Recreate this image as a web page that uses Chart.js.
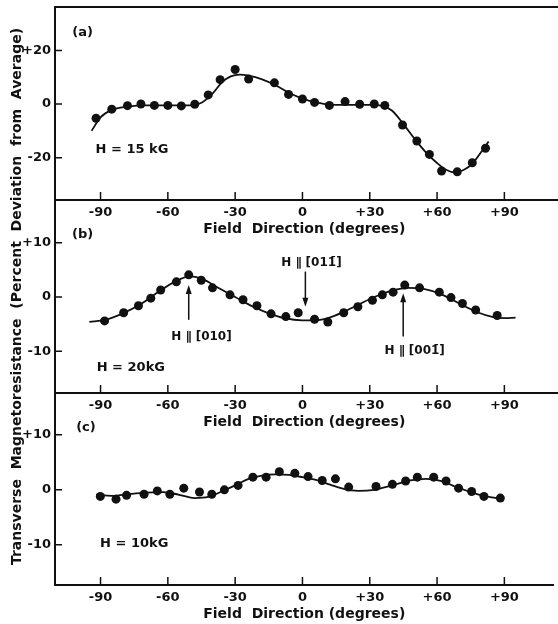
<!DOCTYPE html>
<html>
<head>
<meta charset="utf-8">
<script src="https://cdn.jsdelivr.net/npm/chart.js@4.4.1/dist/chart.umd.min.js"></script>
<style>
  html, body { margin: 0; padding: 0; background: #fff; overflow: hidden; }
  .wrap { position: absolute; left: 0; top: 0; width: 558px; height: 624px; }
  canvas { position: absolute; left: 0; top: 0; }
</style>
</head>
<body>
<div class="wrap">
  <canvas id="panelA" width="558" height="624"></canvas>
  <canvas id="panelB" width="558" height="624"></canvas>
  <canvas id="panelC" width="558" height="624"></canvas>
</div>
<script>
// field direction axis (degrees)
const xTicks = [-90, -60, -30, 0, 30, 60, 90];
const xTickLabels = ['-90', '-60', '-30', '0', '+30', '+60', '+90'];

// (a) H = 15 kG : measured points
const angleA = [-92, -85, -78, -72, -66, -60, -54, -48, -42, -36.7, -30, -24, -12.5, -6.2, 0, 5.4, 12, 19, 25.5, 32, 36.7, 44.6, 51, 56.6, 62, 69, 75.7, 81.6];
const devA = [-5.3, -1.9, -0.6, 0, -0.5, -0.5, -0.7, -0.1, 3.4, 9.1, 12.9, 9.3, 7.9, 3.6, 1.9, 0.6, -0.5, 0.9, -0.1, 0, -0.5, -7.8, -13.8, -18.8, -25, -25.3, -21.9, -16.5];
// (a) drawn curve
const fitAngleA = [-94, -90, -85, -78, -70, -60, -50, -45, -40, -36, -32, -28, -24, -18, -12, -6, 0, 6, 12, 20, 30, 36, 40, 45, 50, 55, 60, 64, 68, 72, 76, 80, 83];
const fitA = [-10, -5, -2.2, -1, -0.5, -0.5, -0.5, 0.5, 4, 8, 10.3, 11, 10.6, 9.2, 7, 4.2, 2, 0.6, -0.2, -0.3, -0.3, -0.8, -2.5, -7.5, -13, -18, -22, -24.5, -25.5, -24.5, -22, -17.5, -14];
const yTicksA = [-20, 0, 20];
const yTickLabelsA = ['-20', '0', '+20'];

// (b) H = 20 kG
const angleB = [-88.2, -79.7, -73.1, -67.6, -63.2, -56.2, -50.7, -45.1, -40.1, -32.3, -26.5, -20.3, -14, -7.4, -1.9, 5.4, 11.3, 18.4, 24.7, 31.2, 35.6, 40.4, 45.6, 52.2, 61, 66.2, 71.3, 77.2, 86.8];
const devB = [-4.4, -2.9, -1.6, -0.2, 1.3, 2.8, 4.1, 3.1, 1.7, 0.4, -0.5, -1.6, -3.1, -3.6, -2.9, -4.1, -4.6, -2.9, -1.8, -0.6, 0.4, 0.9, 2.2, 1.7, 0.9, -0.1, -1.2, -2.4, -3.4];
const fitAngleB = [-95, -88, -80, -72, -64, -57, -50, -44, -38, -30, -22, -15, -8, 0, 6, 12, 18, 25, 32, 40, 47, 54, 62, 70, 78, 85, 90, 95];
const fitB = [-4.6, -4.2, -3, -1.3, 1, 2.8, 3.8, 3.2, 1.8, 0, -1.8, -3, -3.9, -4.3, -4.3, -3.8, -2.8, -1.4, 0, 1.2, 1.7, 1.5, 0.5, -1.2, -2.8, -3.7, -3.9, -3.8];
const yTicksB = [-10, 0, 10];
const yTickLabelsB = ['-10', '0', '+10'];

// (c) H = 10 kG
const angleC = [-90.1, -83.1, -78.4, -70.6, -64.7, -59.1, -52.9, -45.9, -40.4, -34.8, -28.7, -22.1, -16.2, -10.3, -3.4, 2.5, 8.8, 14.7, 20.6, 32.8, 40.1, 46, 51.2, 58.5, 64, 69.6, 75.4, 80.9, 88.2];
const devC = [-1.2, -1.7, -1, -0.8, -0.2, -0.8, 0.3, -0.4, -0.8, 0, 0.8, 2.3, 2.3, 3.3, 3, 2.4, 1.7, 2, 0.5, 0.6, 1, 1.6, 2.3, 2.3, 1.6, 0.3, -0.3, -1.2, -1.5];
const fitAngleC = [-92, -85, -78, -70, -62, -55, -48, -42, -36, -30, -24, -18, -12, -6, 0, 6, 12, 18, 25, 32, 40, 48, 55, 62, 68, 75, 82, 88];
const fitC = [-0.9, -1.1, -0.8, -0.5, -0.4, -0.9, -1.5, -1.3, -0.3, 0.8, 2, 2.6, 2.8, 2.7, 2.3, 1.8, 1, 0.2, -0.2, 0, 0.8, 1.7, 2, 1.6, 0.6, -0.4, -1.2, -1.6];
const yTicksC = [-10, 0, 10];
const yTickLabelsC = ['-10', '0', '+10'];

// panel tags and field strengths (data units)
const panelTags = ['(a)', '(b)', '(c)'];
const tagX = [-98, -98, -96.5];
const tagY = [26.5, 11.6, 11.3];
const fieldText = ['H = 15 kG', 'H = 20kG', 'H = 10kG'];
const fieldX = [-76, -76.5, -75];
const fieldY = [-17, -13, -9.8];

// crystal direction markers in (b)
const dirText = ['H \u2225 [010]', 'H \u2225 [01\u0031\u0304]', 'H \u2225 [00\u0031\u0304]'];
const dirTextX = [-45, 4, 50];
const dirTextY = [-7.4, 6.3, -10];
const arrowX = [-50.7, 1.3, 44.9];
const arrowFrom = [-4.2, 4.7, -7.3];
const arrowTo = [2.2, -1.8, 0.7];

const ink = '#111';
const fontFam = '"DejaVu Sans", sans-serif';
const W = 558, H = 624;

const framePlugin = {
  id: 'frame',
  afterDraw(chart, args, opts) {
    const {ctx, chartArea: a, scales: {x, y}} = chart;
    ctx.save();
    ctx.strokeStyle = ink;
    ctx.fillStyle = ink;
    // top line of the box
    ctx.fillRect(a.left - 1, Math.round(a.top) - 1, W - a.left + 1, 2);
    // inward tick marks
    ctx.lineWidth = 1.5;
    ctx.beginPath();
    xTicks.forEach(v => {
      const px = x.getPixelForValue(v);
      ctx.moveTo(px, a.bottom);
      ctx.lineTo(px, a.bottom - 8);
    });
    opts.yTicks.forEach(v => {
      const py = y.getPixelForValue(v);
      ctx.moveTo(a.left, py);
      ctx.lineTo(a.left + 7, py);
    });
    ctx.stroke();
    // texts inside the panel
    ctx.font = 'bold 13px ' + fontFam;
    ctx.textAlign = 'center';
    ctx.textBaseline = 'middle';
    const i = opts.idx;
    ctx.fillText(panelTags[i], x.getPixelForValue(tagX[i]), y.getPixelForValue(tagY[i]));
    ctx.fillText(fieldText[i], x.getPixelForValue(fieldX[i]), y.getPixelForValue(fieldY[i]));
    if (opts.arrows) {
      ctx.font = 'bold 12px ' + fontFam;
      dirText.forEach((t, k) => {
        ctx.fillText(t, x.getPixelForValue(dirTextX[k]), y.getPixelForValue(dirTextY[k]));
        const ax = x.getPixelForValue(arrowX[k]);
        const y0 = y.getPixelForValue(arrowFrom[k]);
        const y1 = y.getPixelForValue(arrowTo[k]);
        const dir = y1 > y0 ? 1 : -1;
        ctx.lineWidth = 1.5;
        ctx.beginPath();
        ctx.moveTo(ax, y0);
        ctx.lineTo(ax, y1 - dir * 6);
        ctx.stroke();
        ctx.beginPath();
        ctx.moveTo(ax, y1);
        ctx.lineTo(ax - 3, y1 - dir * 9);
        ctx.lineTo(ax + 3, y1 - dir * 9);
        ctx.closePath();
        ctx.fill();
      });
    }
    ctx.restore();
  }
};

function makePanel(id, idx, p) {
  return new Chart(document.getElementById(id), {
    type: 'scatter',
    data: {
      datasets: [
        {
          data: p.fitAngle.map((a, i) => ({x: a, y: p.fit[i]})),
          showLine: true,
          borderColor: ink,
          borderWidth: 1.8,
          pointRadius: 0,
          cubicInterpolationMode: 'monotone'
        },
        {
          data: p.angle.map((a, i) => ({x: a, y: p.dev[i]})),
          showLine: false,
          pointRadius: 4.5,
          pointBackgroundColor: ink,
          pointBorderWidth: 0
        }
      ]
    },
    options: {
      responsive: false,
      animation: false,
      layout: { padding: { left: 0, right: 0, top: p.top, bottom: H - p.bottom - 40 } },
      plugins: {
        legend: { display: false },
        tooltip: { enabled: false },
        frame: { idx: idx, yTicks: p.yTicks, arrows: p.arrows }
      },
      scales: {
        x: {
          type: 'linear',
          min: -110.3,
          max: 111.9,
          grid: { display: false, drawTicks: false },
          border: { display: true, color: ink, width: 2 },
          afterBuildTicks: s => { s.ticks = xTicks.map(v => ({value: v})); },
          afterFit: s => { s.height = 40; s.paddingLeft = 0; s.paddingRight = 0; },
          ticks: {
            autoSkip: false,
            maxRotation: 0,
            padding: 5,
            color: ink,
            font: { family: fontFam, size: 13, weight: 'bold' },
            callback: v => xTickLabels[xTicks.indexOf(v)]
          },
          title: {
            display: true,
            text: 'Field  Direction (degrees)',
            color: ink,
            font: { family: fontFam, size: 14, weight: 'bold' },
            padding: { top: 0, bottom: 2 }
          }
        },
        y: {
          min: p.yMin,
          max: p.yMax,
          grid: { display: false, drawTicks: false },
          border: { display: true, color: ink, width: 2 },
          afterBuildTicks: s => { s.ticks = p.yTicks.map(v => ({value: v})); },
          afterFit: s => { s.width = 55; s.paddingTop = 0; s.paddingBottom = 0; },
          ticks: {
            autoSkip: false,
            padding: 4,
            color: ink,
            font: { family: fontFam, size: 13, weight: 'bold' },
            callback: v => p.yTickLabels[p.yTicks.indexOf(v)]
          },
          title: {
            display: !!p.yTitle,
            text: p.yTitle || '',
            color: ink,
            font: { family: fontFam, size: 14, weight: 'bold' },
            padding: { top: 9, bottom: 0 }
          }
        }
      }
    },
    plugins: [framePlugin]
  });
}

makePanel('panelA', 0, {
  angle: angleA, dev: devA, fitAngle: fitAngleA, fit: fitA,
  yTicks: yTicksA, yTickLabels: yTickLabelsA,
  yMin: -35.8, yMax: 36.2, top: 7, bottom: 200
});
makePanel('panelB', 1, {
  angle: angleB, dev: devB, fitAngle: fitAngleB, fit: fitB,
  yTicks: yTicksB, yTickLabels: yTickLabelsB,
  yMin: -17.7, yMax: 17.9, top: 200, bottom: 393, arrows: true,
  yTitle: 'Transverse  Magnetoresistance  (Percent  Deviation  from  Average)'
});
makePanel('panelC', 2, {
  angle: angleC, dev: devC, fitAngle: fitAngleC, fit: fitC,
  yTicks: yTicksC, yTickLabels: yTickLabelsC,
  yMin: -17.3, yMax: 17.6, top: 393, bottom: 585
});
</script>
</body>
</html>
